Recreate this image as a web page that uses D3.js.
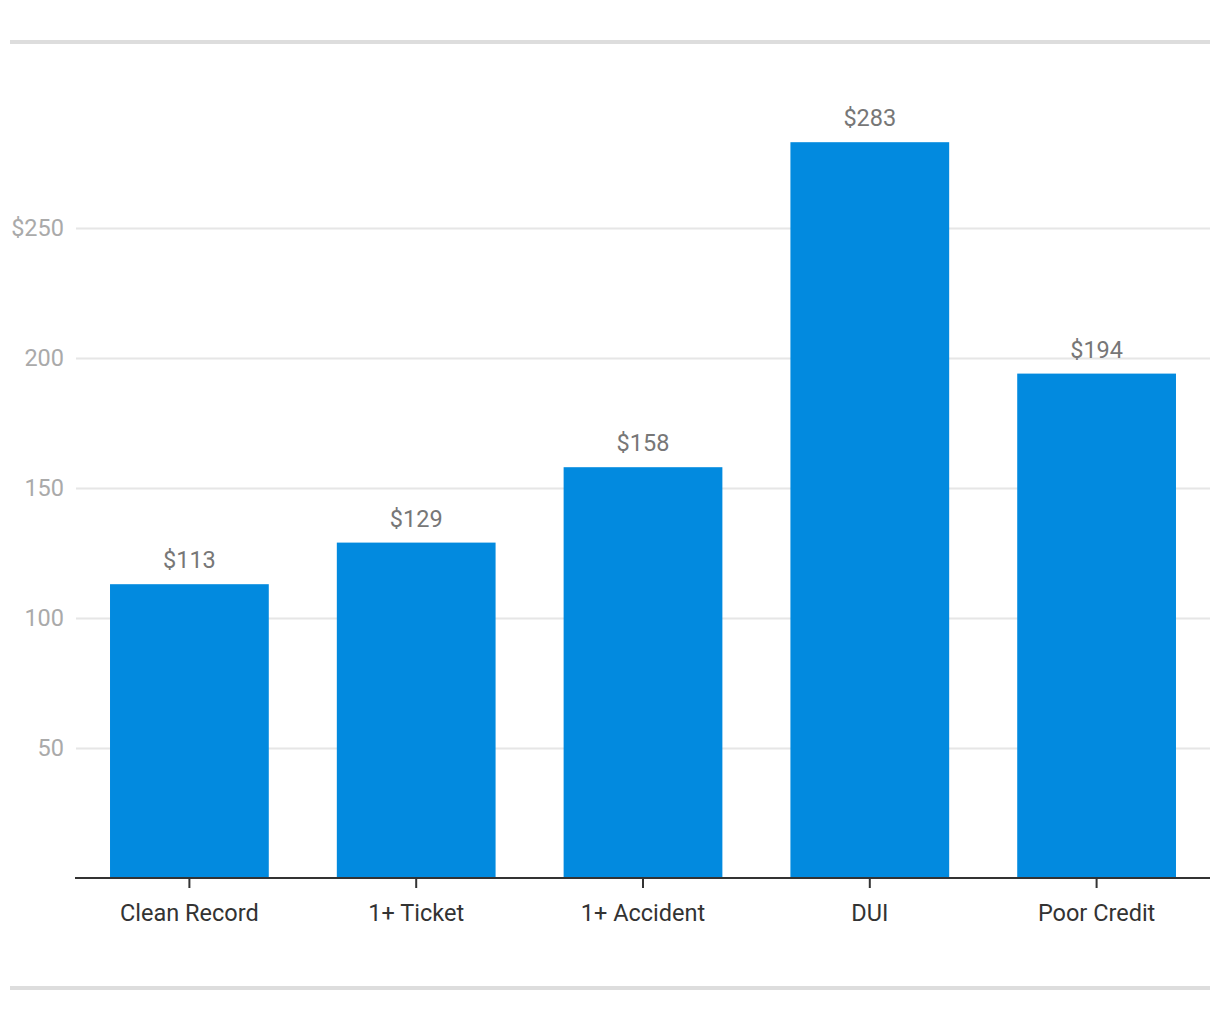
<!DOCTYPE html>
<html><head><meta charset="utf-8">
<script src="https://cdn.jsdelivr.net/npm/d3@7"></script>
<style>body{margin:0;background:#fff;font-family:Roboto,sans-serif}</style>
</head><body><svg id="c" width="1220" height="1020"></svg>
<script>
const categories = ["Clean Record","1+ Ticket","1+ Accident","DUI","Poor Credit"];
const values = [113,129,158,283,194];
const yTicks = [50,100,150,200,250];
const yTickLabels = ["50","100","150","200","$250"];

const svg = d3.select("#c");
const m = {left:76, right:1210, top:80, bottom:878};
const x = d3.scaleBand().domain(categories).range([m.left,m.right]).paddingInner(0.3).paddingOuter(0.15);
const y = d3.scaleLinear().domain([0,250]).range([m.bottom,228]);

svg.append("rect").attr("x",10).attr("y",40).attr("width",1200).attr("height",4).attr("fill","#dddddd");
svg.append("rect").attr("x",10).attr("y",986).attr("width",1200).attr("height",4).attr("fill","#dddddd");

const yAxis = d3.axisLeft(y).tickValues(yTicks).tickSize(-(m.right-m.left)).tickFormat((d,i)=>yTickLabels[i]);
const gy = svg.append("g").attr("transform",`translate(${m.left},0)`).call(yAxis);
gy.select(".domain").remove();
gy.selectAll(".tick line").attr("stroke","#e6e6e6").attr("stroke-width",2);
gy.selectAll(".tick text").attr("x",-12).attr("fill","#aaaaaa").style("font-size","23.5px").style("font-family","Roboto");

svg.append("g").selectAll("rect").data(values).join("rect")
  .attr("x",(d,i)=>x(categories[i])).attr("width",x.bandwidth())
  .attr("y",d=>y(d)).attr("height",d=>y(0)-y(d)).attr("fill","#028ADF");

svg.append("g").selectAll("text").data(values).join("text")
  .attr("x",(d,i)=>x(categories[i])+x.bandwidth()/2).attr("y",d=>y(d)-16)
  .attr("text-anchor","middle").attr("fill","#777777").style("font-size","23.5px").style("font-family","Roboto")
  .text(d=>"$"+d);

const xAxis = d3.axisBottom(x).tickSize(10).tickSizeOuter(0).tickPadding(16);
const gx = svg.append("g").attr("transform",`translate(0,${m.bottom})`).call(xAxis);
gx.select(".domain").attr("stroke","#333").attr("stroke-width",2).attr("d",`M${m.left-1},0H${m.right}`);
gx.selectAll(".tick line").attr("stroke","#333").attr("stroke-width",2);
gx.selectAll(".tick text").attr("fill","#333").style("font-size","23.5px").style("font-family","Roboto");
</script></body></html>
